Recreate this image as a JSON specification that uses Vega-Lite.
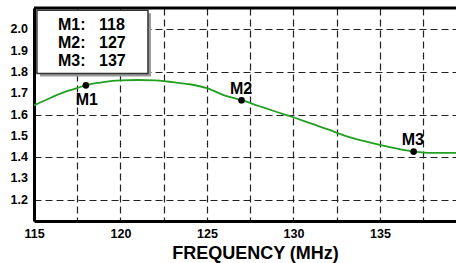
{
  "$schema": "https://vega.github.io/schema/vega-lite/v6.json",
  "width": 422,
  "height": 213,
  "autosize": {"type": "none"},
  "padding": {"left": 34, "top": 8, "right": 0, "bottom": 42},
  "background": "white",
  "config": {
    "view": {"stroke": null},
    "font": "Liberation Sans",
    "axis": {"labelOverlap": false, "labelSeparation": 0, "labelBound": false}
  },
  "datasets": {
    "curve": [
      {"f": 115, "v": 1.643}, {"f": 116, "v": 1.68}, {"f": 117, "v": 1.712}, {"f": 117.5, "v": 1.724},
      {"f": 118, "v": 1.738}, {"f": 119, "v": 1.752}, {"f": 120, "v": 1.76}, {"f": 121, "v": 1.762},
      {"f": 122, "v": 1.76}, {"f": 122.5, "v": 1.757}, {"f": 123, "v": 1.752}, {"f": 124, "v": 1.742},
      {"f": 125, "v": 1.724}, {"f": 126, "v": 1.69}, {"f": 127, "v": 1.667}, {"f": 128, "v": 1.64},
      {"f": 129, "v": 1.613}, {"f": 130, "v": 1.587}, {"f": 131, "v": 1.558}, {"f": 132, "v": 1.53},
      {"f": 133, "v": 1.5}, {"f": 134, "v": 1.477}, {"f": 135, "v": 1.457}, {"f": 136, "v": 1.44},
      {"f": 137, "v": 1.426}, {"f": 138, "v": 1.42}, {"f": 139.4, "v": 1.42}
    ],
    "markers": [
      {"name": "M1", "f": 118, "v": 1.737, "lf": 118.05, "lv": 1.667},
      {"name": "M2", "f": 127, "v": 1.667, "lf": 126.97, "lv": 1.718},
      {"name": "M3", "f": 136.95, "v": 1.426, "lf": 136.9, "lv": 1.478}
    ],
    "box": [{"x1": 115.17, "x2": 121.59, "y1": 2.089, "y2": 1.793}],
    "legend": [
      {"name": "M1:", "val": "118", "v": 2.022},
      {"name": "M2:", "val": "127", "v": 1.934},
      {"name": "M3:", "val": "137", "v": 1.85}
    ],
    "ylabels": [
      {"yv": 1.2, "lab": "1.2"}, {"yv": 1.3, "lab": "1.3"}, {"yv": 1.4, "lab": "1.4"},
      {"yv": 1.5, "lab": "1.5"}, {"yv": 1.6, "lab": "1.6"}, {"yv": 1.7, "lab": "1.7"},
      {"yv": 1.8, "lab": "1.8"}, {"yv": 1.9, "lab": "1.9"}, {"yv": 2.0, "lab": "2.0"}
    ]
  },
  "layer": [
    {
      "data": {"name": "curve"},
      "mark": {"type": "line", "color": "#22a022", "strokeWidth": 1.8, "interpolate": "monotone"},
      "encoding": {
        "x": {
          "field": "f", "type": "quantitative",
          "scale": {"domain": [115, 139.4], "nice": false, "zero": false},
          "axis": {
            "values": [115, 117.5, 120, 122.5, 125, 127.5, 130, 132.5, 135, 137.5],
            "labelExpr": "datum.value % 5 == 0 ? datum.label : ''",
            "labelOverlap": false,
            "grid": true, "gridDash": [7, 4], "gridColor": "#222222", "gridWidth": 1.2, "gridOpacity": 1,
            "ticks": false, "domainWidth": 3, "domainColor": "black",
            "labelFontSize": 12.5, "labelFontWeight": "bold", "labelColor": "black", "labelPadding": 6,
            "labelFlush": false,
            "title": "FREQUENCY (MHz)", "titleFontSize": 18, "titleFontWeight": "bold", "titleColor": "black",
            "titleX": 221, "titleY": 23, "titleBaseline": "top", "titleAlign": "center"
          }
        },
        "y": {
          "field": "v", "type": "quantitative",
          "scale": {"domain": [1.1, 2.1], "nice": false, "zero": false},
          "axis": {
            "values": [1.2, 1.3, 1.4, 1.5, 1.6, 1.7, 1.8, 1.9, 2.0],
            "labels": false,
            "grid": true, "gridDash": [7, 4], "gridColor": "#222222", "gridWidth": 1.2, "gridOpacity": 1,
            "ticks": false, "domainWidth": 3, "domainColor": "black",
            "title": null
          }
        }
      }
    },
    {
      "data": {"values": [{"t": 2.1}]},
      "mark": {"type": "rule", "color": "black", "strokeWidth": 3},
      "encoding": {"y": {"field": "t", "type": "quantitative"}}
    },
    {
      "data": {"name": "ylabels"},
      "mark": {"type": "text", "align": "right", "baseline": "middle", "dx": -6, "fontSize": 12.5, "fontWeight": "bold", "color": "black", "clip": false},
      "encoding": {
        "x": {"datum": 115, "type": "quantitative"},
        "y": {"field": "yv", "type": "quantitative"},
        "text": {"field": "lab"}
      }
    },
    {
      "data": {"name": "box"},
      "mark": {"type": "rect", "fill": "#9a9a9a", "xOffset": 3, "x2Offset": 3, "yOffset": 3, "y2Offset": 3},
      "encoding": {
        "x": {"field": "x1", "type": "quantitative"},
        "x2": {"field": "x2"},
        "y": {"field": "y1", "type": "quantitative"},
        "y2": {"field": "y2"}
      }
    },
    {
      "data": {"name": "box"},
      "mark": {"type": "rect", "fill": "white", "stroke": "#333333", "strokeWidth": 1.5},
      "encoding": {
        "x": {"field": "x1", "type": "quantitative"},
        "x2": {"field": "x2"},
        "y": {"field": "y1", "type": "quantitative"},
        "y2": {"field": "y2"}
      }
    },
    {
      "data": {"name": "legend"},
      "mark": {"type": "text", "align": "left", "baseline": "middle", "fontSize": 16, "fontWeight": "bold", "color": "black"},
      "encoding": {
        "x": {"datum": 116.39, "type": "quantitative"},
        "y": {"field": "v", "type": "quantitative"},
        "text": {"field": "name"}
      }
    },
    {
      "data": {"name": "legend"},
      "mark": {"type": "text", "align": "left", "baseline": "middle", "fontSize": 16, "fontWeight": "bold", "color": "black"},
      "encoding": {
        "x": {"datum": 118.76, "type": "quantitative"},
        "y": {"field": "v", "type": "quantitative"},
        "text": {"field": "val"}
      }
    },
    {
      "data": {"name": "markers"},
      "mark": {"type": "point", "filled": true, "color": "black", "size": 45, "opacity": 1},
      "encoding": {
        "x": {"field": "f", "type": "quantitative"},
        "y": {"field": "v", "type": "quantitative"}
      }
    },
    {
      "data": {"name": "markers"},
      "mark": {"type": "text", "align": "center", "baseline": "middle", "fontSize": 16, "fontWeight": "bold", "color": "black"},
      "encoding": {
        "x": {"field": "lf", "type": "quantitative"},
        "y": {"field": "lv", "type": "quantitative"},
        "text": {"field": "name"}
      }
    }
  ]
}
